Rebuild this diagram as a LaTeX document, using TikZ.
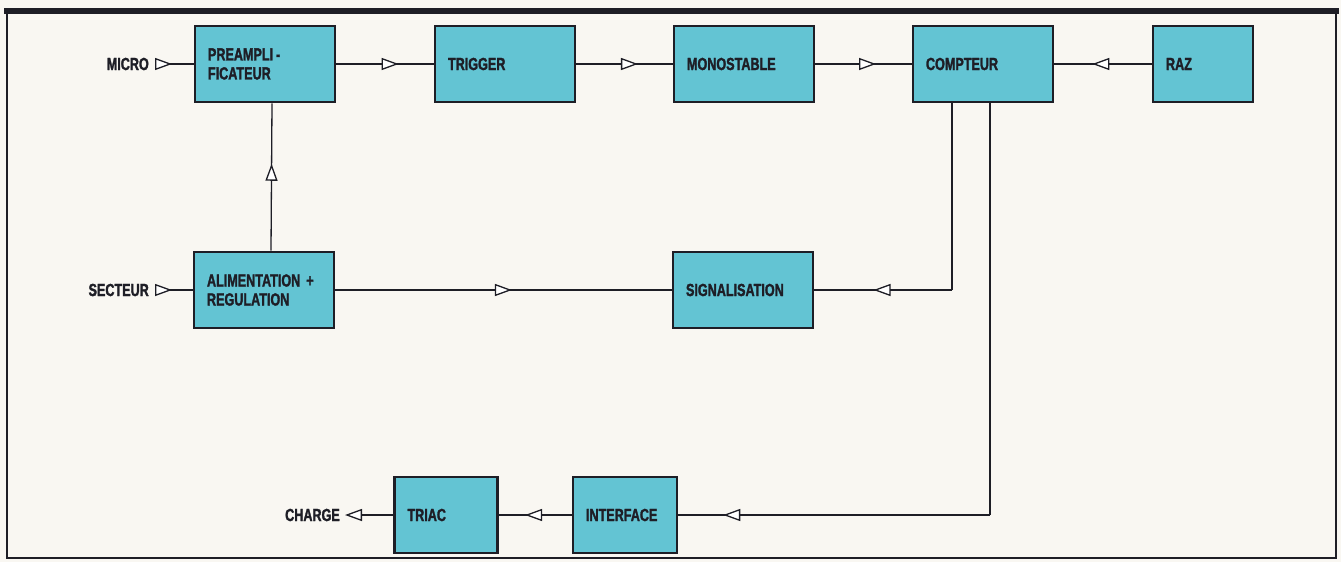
\documentclass[tikz,border=0pt]{standalone}
\usepackage{fontspec}
\setmainfont{Liberation Sans}[FakeStretch=0.72,BoldFeatures={FakeBold=1.6}]
\usetikzlibrary{arrows.meta,decorations.markings}
\definecolor{paper}{RGB}{249,247,242}
\definecolor{cyanbox}{RGB}{99,196,211}
\definecolor{ink}{RGB}{30,30,38}
\tikzset{
  >={Triangle[length=17pt,width=12pt,fill=white]},
  block/.style={draw=ink,line width=2.8pt,fill=cyanbox,text=ink,minimum height=76pt,
    text width=#1,inner xsep=13pt,align=left,font=\bfseries\fontsize{17.5}{19}\selectfont},
  tag/.style={text=ink,inner xsep=#1,inner ysep=2pt,font=\bfseries\fontsize{17.5}{19}\selectfont},
  flow/.style={draw=ink,line width=1.3pt,postaction={decorate},
    decoration={markings,mark=at position #1 with {\arrow{>}}}},
  flow/.default=0.5
}
\begin{document}
\begin{tikzpicture}[x=1pt,y=-1pt]
  \fill[paper] (0,0) rectangle (1341,562);
  \useasboundingbox (0,0) rectangle (1341,562);
  \draw[ink,line width=2.5pt] (7,11) -- (7,558) -- (1336,558) -- (1336,11);
  \draw[ink,line width=6pt] (4,11) -- (1339,11);
  \foreach \name/\x/\y/\w/\txt in {preamp/265/64/114pt/{PREAMPLI\,-\\FICATEUR},
      trigger/505/64/114pt/TRIGGER, mono/744/64/114pt/MONOSTABLE,
      compteur/983/64/114pt/COMPTEUR, raz/1203/64/74pt/RAZ,
      alim/264/290/114pt/{ALIMENTATION\hskip6pt+\\REGULATION},
      signal/743/290/114pt/SIGNALISATION,
      triac/446/515/77pt/TRIAC, interface/625/515/78pt/INTERFACE} {
    \node[block=\w] (\name) at (\x,\y) {\txt};
  };
  \node[tag=8pt,anchor=east] (micro) at (157,64) {MICRO};
  \node[tag=8pt,anchor=east] (secteur) at (157,290) {SECTEUR};
  \node[tag=5pt,anchor=east] (charge) at (345,515) {CHARGE};
  \foreach \a/\b/\p in {micro/preamp/15pt, secteur/alim/15pt, preamp/trigger/0.64,
      trigger/mono/0.64, mono/compteur/0.63, raz/compteur/0.61,
      alim/signal/0.525, interface/triac/0.64} {
    \draw[flow=\p] (\a) -- (\b);
  };
  \draw[flow=0.59] ([xshift=7pt]alim.north) -- ([xshift=7pt]preamp.south);
  \coordinate (c1) at ([xshift=-31pt]compteur.south |- signal.east);
  \coordinate (c2) at ([xshift=7pt]compteur.south |- interface.east);
  \draw[ink,line width=1.3pt] ([xshift=-31pt]compteur.south) -- (c1);
  \draw[ink,line width=1.3pt] ([xshift=7pt]compteur.south) -- (c2);
  \draw[flow=0.57] (c1) -- (signal);
  \draw[flow=0.856] (c2) -- (interface);
  \draw[ink,line width=1.3pt,->] (triac) -- (charge);
\end{tikzpicture}
\end{document}
